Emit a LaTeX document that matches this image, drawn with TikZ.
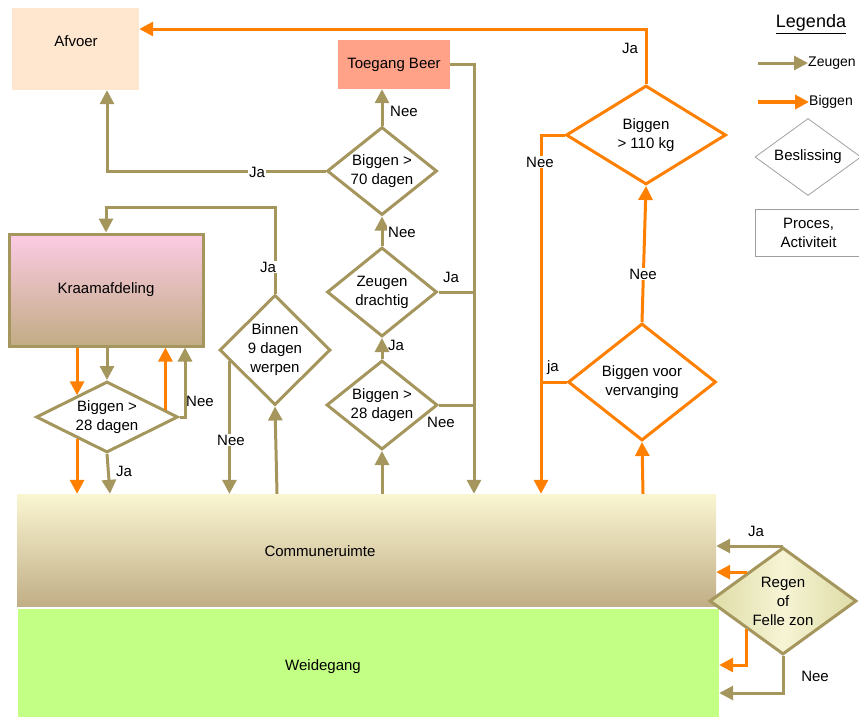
\documentclass[tikz,border=0pt]{standalone}
\usepackage{fontspec}
\setmainfont{Liberation Sans}
\usetikzlibrary{arrows.meta}
\usetikzlibrary{shapes.geometric}
\definecolor{tanline}{HTML}{A5965E}
\definecolor{oranje}{HTML}{FF8000}
\definecolor{afvoerfill}{HTML}{FFE6CE}
\definecolor{beerfill}{HTML}{FFA288}
\definecolor{kraamtop}{HTML}{FCCBE5}
\definecolor{kraambot}{HTML}{C2AC84}
\definecolor{communetop}{HTML}{FAF6D2}
\definecolor{communebot}{HTML}{C0AE86}
\definecolor{weidefill}{HTML}{C2FF84}
\definecolor{regenside}{HTML}{DEDCA6}
\definecolor{regenmid}{HTML}{F6F4D4}
\definecolor{legendgray}{HTML}{A0A0A0}
\tikzset{
  box/.style={rectangle, inner sep=0pt, align=center},
  dia/.style={diamond, draw=tanline, line width=3pt, fill=white, inner sep=0pt, align=center},
  odia/.style={dia, draw=oranje},
  zflow/.style={draw=tanline, line width=3pt, -{Triangle[length=14pt,width=14pt]}},
  bflow/.style={draw=oranje, line width=3pt, -{Triangle[length=14pt,width=14pt]}},
  zline/.style={draw=tanline, line width=3pt},
  bline/.style={draw=oranje, line width=3pt},
  lbl/.style={fill=white, inner sep=1pt}
}

\begin{document}
\begin{tikzpicture}[x=1pt, y=-1pt, font=\fontsize{15}{19}\selectfont]
    \useasboundingbox (0, 0) rectangle (859, 718);
    \clip (0, 0) rectangle (859, 718);

    \node [box, fill=afvoerfill, minimum width=127pt, minimum height=82pt] (afvoer) at (75.5, 49) {};
    \node (afvoertxt) at (76, 41) {Afvoer};
    \node [box, fill=beerfill, minimum width=112pt, minimum height=49pt] (beer) at (394, 64.5) {Toegang Beer};
    \node [box, draw=tanline, line width=3pt, top color=kraamtop, bottom color=kraambot,
      minimum width=194pt, minimum height=112pt] (kraam) at (106, 290) {Kraamafdeling};
    \node [box, top color=communetop, bottom color=communebot, minimum width=699pt, minimum height=112pt] (commune) at (366.5, 550) {};
    \node (communetxt) at (320, 551) {Communeruimte};
    \node [box, fill=weidefill, minimum width=701pt, minimum height=108pt] (weide) at (368.5, 663) {};
    \node (weidetxt) at (323, 667) {Weidegang};

    \node [dia, minimum width=110pt, minimum height=88pt, aspect=1.25] (d70) at (382, 171) {Biggen >\\70 dagen};
    \node [dia, minimum width=110pt, minimum height=89pt, aspect=1.24] (drachtig) at (382, 292) {Zeugen\\drachtig};
    \node [dia, minimum width=111pt, minimum height=89pt, aspect=1.25] (d28m) at (382, 405) {Biggen >\\28 dagen};
    \node [dia, minimum width=111pt, minimum height=110pt, aspect=1] (binnen) at (275, 350) {Binnen\\9 dagen\\werpen};
    \node [dia, minimum width=142pt, minimum height=71pt, aspect=2] (d28l) at (107, 417) {Biggen >\\28 dagen};
    \node [odia, minimum width=160pt, minimum height=99pt, aspect=1.6] (d110) at (646, 135) {Biggen\\> 110 kg};
    \node [odia, minimum width=148pt, minimum height=117pt, aspect=1.26] (vervang) at (642, 382) {Biggen voor\\vervanging};
    \node [dia, left color=regenside, right color=regenside, middle color=regenmid,
      minimum width=147pt, minimum height=107pt, aspect=1.37] (regen) at (783, 601) {Regen\\of\\Felle zon};

    \draw [bflow] (d110.north) |- (afvoer.east |- 0, 29);
    \draw [zflow] (beer.east) -| (commune.north -| 474, 0);
    \draw [zflow] (d70.north) -- (d70.north |- beer.south);
    \draw [zflow] (d70.west) -| (afvoer.south -| 107, 0);
    \draw [zflow] (drachtig.north) -- (d70.south);
    \draw [zline] (drachtig.east) -- (drachtig.east -| 474, 0);
    \draw [zflow] (d28m.north) -- (drachtig.south);
    \draw [zline] (d28m.east) -- (d28m.east -| 474, 0);
    \draw [zflow] (commune.north -| d28m.south) -- (d28m.south);
    \draw [zflow] (commune.north -| 277, 0) -- (binnen.south);
    \draw [zflow] (binnen.north) -- (binnen.north |- 0, 207) -| (kraam.north);
    \draw [zflow] (binnen.194) -- (binnen.194 |- commune.north);

    \draw [zflow] (kraam.south -| d28l.north) -- (d28l.north);
    \draw [bflow] (kraam.south -| d28l.144) -- (d28l.144);
    \draw [bflow] (d28l.7) -- (d28l.7 |- kraam.south);
    \draw [zflow] (d28l.east) -| (kraam.south -| 185, 0);
    \draw [bflow] (d28l.216) -- (d28l.216 |- commune.north);
    \draw [zflow] (d28l.south) -- (commune.north -| 110, 0);

    \draw [bflow] (d110.west) -| (commune.north -| 541, 0);
    \draw [bflow] (vervang.north) -- (d110.south);
    \draw [bline] (vervang.west) -- (vervang.west -| 541, 0);
    \draw [bflow] (commune.north -| 643, 0) -- (vervang.south);

    \draw [zflow] (regen.north) -- (commune.east |- regen.north);
    \draw [bflow] (regen.141) -- (regen.141 -| commune.east);
    \draw [bflow] (regen.217) |- (weide.east |- 0, 665);
    \draw [zflow] (regen.south) |- (weide.east |- 0, 693);

    \node (ja1) at (630, 48) {Ja};
    \node [lbl] (nee1) at (404, 111) {Nee};
    \node [lbl] (ja2) at (257, 172) {Ja};
    \node [lbl] (nee2) at (402, 232) {Nee};
    \node (ja3) at (451, 277) {Ja};
    \node (ja4) at (396, 345) {Ja};
    \node (nee3) at (441, 422) {Nee};
    \node [lbl] (ja5) at (268, 267) {Ja};
    \node [lbl] (nee4) at (231, 440) {Nee};
    \node (nee5) at (200, 401) {Nee};
    \node (ja6) at (124, 471) {Ja};
    \node [lbl] (nee6) at (540, 162) {Nee};
    \node [lbl] (nee7) at (643, 274) {Nee};
    \node (ja7) at (553, 368) {ja};
    \node (ja8) at (756, 531) {Ja};
    \node (nee8) at (815, 676) {Nee};

    \node [font=\fontsize{18}{21}\selectfont] (legenda) at (811, 24) {\underline{Legenda}};
    \node [anchor=west, inner sep=0pt, font=\fontsize{14}{17}\selectfont] (zeugen) at (808, 63) {Zeugen};
    \node [anchor=west, inner sep=0pt, font=\fontsize{14}{17}\selectfont] (biggen) at (809, 102) {Biggen};
    \coordinate (lz) at (758, 63);
    \coordinate (lb) at (758, 102);
    \draw [zflow] (lz) -- (zeugen.west);
    \draw [bflow, line width=3.5pt] (lb) -- (biggen.west);
    \node [diamond, draw=legendgray, line width=0.8pt, inner sep=0pt, minimum width=106pt,
      minimum height=77pt, aspect=1.38] (beslissing) at (808, 157) {Beslissing};
    \node [box, draw=legendgray, line width=0.8pt, minimum width=107pt, minimum height=47pt] (proces) at (808.5, 232.5) {Proces,\\Activiteit};
  \end{tikzpicture}
\end{document}
